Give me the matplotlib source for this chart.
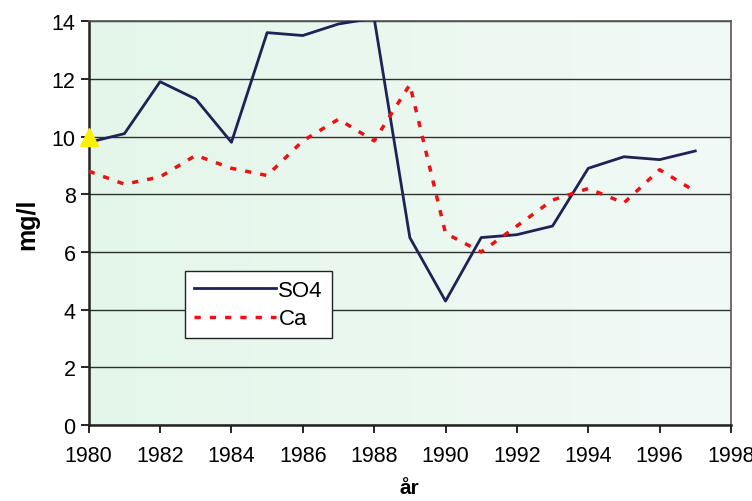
import matplotlib
matplotlib.use("Agg")

import matplotlib.pyplot as plt
import numpy as np
from matplotlib.colors import LinearSegmentedColormap

plt.rcParams['font.family'] = ['Liberation Sans', 'DejaVu Sans']

years = list(range(1980, 1998))
so4 = [9.8, 10.1, 11.9, 11.3, 9.8, 13.6, 13.5, 13.9, 14.1, 6.5,
       4.3, 6.5, 6.6, 6.9, 8.9, 9.3, 9.2, 9.5]
ca = [8.8, 8.35, 8.6, 9.35, 8.9, 8.65, 9.85, 10.6, 9.85, 11.8,
      6.65, 6.0, 6.9, 7.8, 8.2, 7.7, 8.85, 8.1]
marker_x = [1980]
marker_y = [10]

fig = plt.figure(figsize=(7.52, 5.02), dpi=100)
ax = fig.add_axes([0.118, 0.151, 0.854, 0.805])

# light green gradient background
grad = np.linspace(0, 1, 256).reshape(1, -1)
cmap = LinearSegmentedColormap.from_list("bg", ["#e4f6e9", "#f2faf7"])
ax.imshow(grad, extent=[1980, 1998, 0, 14], aspect='auto', cmap=cmap, zorder=0)

ax.set_xlim(1980, 1998)
ax.set_ylim(0, 14)
ax.set_yticks(range(0, 15, 2))
ax.set_xticks(range(1980, 1999, 2))
ax.grid(axis='y', color='#303030', lw=1, zorder=1)

ax.plot(years, so4, color='#1f2255', lw=2, label='SO4', zorder=3)
ax.plot(years, ca, color='#ee1111', lw=2.5, ls=(0, (1.8, 2.6)), label='Ca', zorder=3)
ax.plot(marker_x, marker_y, marker='^', color='#ffee00', ms=13, ls='none',
        clip_on=False, zorder=4)

for side in ['top', 'right']:
    ax.spines[side].set_color('#555555')
    ax.spines[side].set_linewidth(1.2)
for side in ['left', 'bottom']:
    ax.spines[side].set_color('#222222')
    ax.spines[side].set_linewidth(1.8)

ax.tick_params(axis='both', labelsize=15.5, length=6, width=1.2, direction='out')
ax.tick_params(axis='x', pad=8)
ax.set_xlabel('år', fontsize=15, fontweight='bold', labelpad=9)
ax.set_ylabel('mg/l', fontsize=18, fontweight='bold', labelpad=9)

leg = ax.legend(loc='upper left', bbox_to_anchor=(0.15, 0.382), fontsize=16,
                frameon=True, fancybox=False, handlelength=3.7, handletextpad=0.1,
                borderpad=0.4, labelspacing=0.35, borderaxespad=0)
leg.get_frame().set_edgecolor('#222222')
leg.get_frame().set_linewidth(1)
leg.get_frame().set_facecolor('white')
leg.get_frame().set_alpha(1)

fig.savefig('out.png', dpi=100)
